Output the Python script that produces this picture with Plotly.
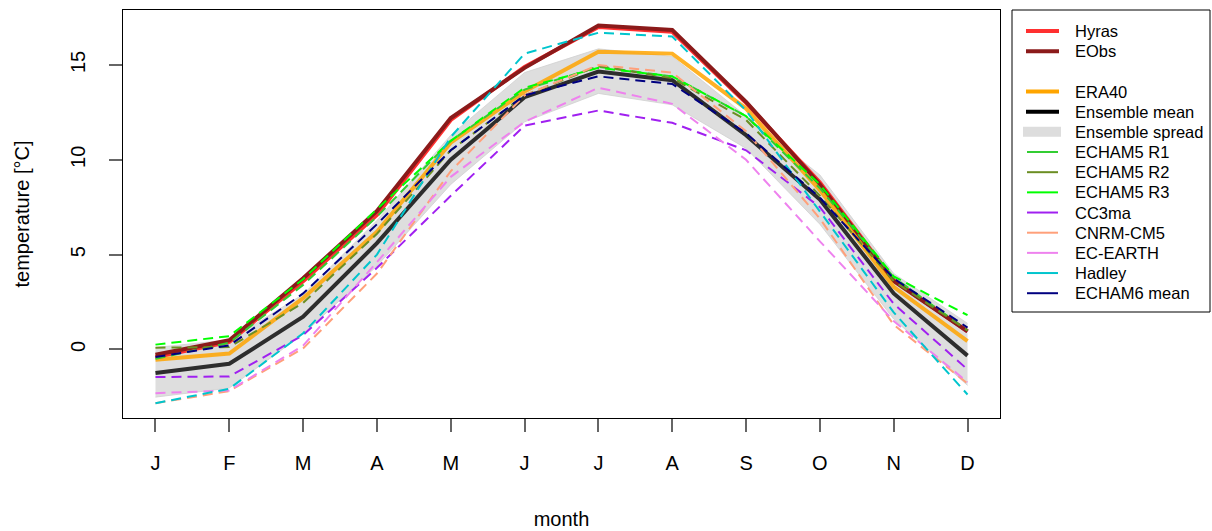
import plotly.graph_objects as go

months = ["J", "F", "M", "A", "M", "J", "J", "A", "S", "O", "N", "D"]
month_idx = list(range(1, 13))

hyras = [-0.4, 0.4, 3.6, 7.1, 12.1, 14.9, 17.0, 16.75, 13.0, 8.8, 3.65, 0.95]
eobs = [-0.28, 0.48, 3.75, 7.3, 12.2, 14.85, 17.08, 16.85, 13.06, 8.7, 3.6, 0.95]
era40 = [-0.55, -0.22, 2.7, 6.2, 10.9, 13.6, 15.7, 15.6, 12.7, 8.4, 3.3, 0.44]
ens_mean = [-1.25, -0.76, 1.72, 5.6, 10.0, 13.3, 14.65, 14.2, 11.3, 7.9, 2.95, -0.33]
spread_lo = [-2.52, -2.04, 0.8, 4.4, 8.7, 12.0, 13.5, 12.9, 10.6, 6.6, 1.6, -1.9]
spread_hi = [0.1, 0.5, 2.9, 6.8, 11.3, 14.6, 15.85, 15.45, 12.3, 9.2, 4.0, 1.37]

echam5_r1 = [-0.5, 0.35, 3.4, 7.0, 11.0, 13.7, 14.9, 14.4, 12.3, 8.5, 3.8, 1.0]
echam5_r2 = [0.09, 0.12, 2.45, 6.1, 10.5, 13.4, 14.95, 14.3, 12.1, 8.1, 3.6, 1.0]
echam5_r3 = [0.25, 0.7, 3.7, 7.4, 11.0, 13.8, 14.85, 14.4, 12.3, 8.7, 3.85, 1.8]
cc3ma = [-1.46, -1.43, 0.75, 4.3, 8.1, 11.8, 12.6, 11.95, 10.5, 7.5, 2.4, -1.06]
cnrm_cm5 = [-2.84, -2.2, 0.05, 4.0, 9.4, 13.4, 15.0, 14.6, 11.5, 6.9, 1.3, -1.8]
ec_earth = [-2.31, -2.17, 0.2, 4.6, 9.1, 12.0, 13.8, 12.95, 10.0, 5.7, 1.5, -1.73]
hadley = [-2.84, -2.08, 0.85, 5.0, 11.2, 15.6, 16.7, 16.5, 12.6, 7.3, 1.95, -2.38]
echam6_mean = [-0.4, 0.21, 2.95, 6.6, 10.5, 13.4, 14.4, 14.0, 11.4, 8.0, 3.74, 1.15]

y_ticks = [0, 5, 10, 15]

FONT = "Liberation Sans, Arial, sans-serif"
W, H = 1212, 531
ML, MR, MT, MB = 123, 212, 10, 113
PW, PH = W - ML - MR, H - MT - MB


def px_x(px):
    return (px - ML) / PW


def px_y(py):
    return (H - MB - py) / PH


fig = go.Figure()

# ensemble spread polygon
fig.add_trace(go.Scatter(x=month_idx, y=spread_lo, mode="lines",
                         line=dict(width=0.8, color="#d0d0d0"),
                         showlegend=False, hoverinfo="skip"))
fig.add_trace(go.Scatter(x=month_idx, y=spread_hi, mode="lines",
                         line=dict(width=0.8, color="#d0d0d0"),
                         fill="tonexty", fillcolor="#dedede",
                         showlegend=False, hoverinfo="skip"))

thick = [
    ("Hyras", hyras, "#ff3030"),
    ("EObs", eobs, "#8b1a1a"),
    ("ERA40", era40, "rgba(255,165,0,0.85)"),
    ("Ensemble mean", ens_mean, "rgba(0,0,0,0.8)"),
]
for name, vals, col in thick:
    fig.add_trace(go.Scatter(x=month_idx, y=vals, mode="lines", name=name,
                             line=dict(color=col, width=4), showlegend=False))

models = [
    ("ECHAM5 R1", echam5_r1, "#32cd32"),
    ("ECHAM5 R2", echam5_r2, "#6b8e23"),
    ("ECHAM5 R3", echam5_r3, "#00ff00"),
    ("CC3ma", cc3ma, "#a020f0"),
    ("CNRM-CM5", cnrm_cm5, "#ffa07a"),
    ("EC-EARTH", ec_earth, "#ee82ee"),
    ("Hadley", hadley, "#00c5cd"),
    ("ECHAM6 mean", echam6_mean, "#000080"),
]
for name, vals, col in models:
    fig.add_trace(go.Scatter(x=month_idx, y=vals, mode="lines", name=name,
                             line=dict(color=col, width=2, dash="10px,6px"),
                             showlegend=False))

# ---- manual legend (R style) ----
legend_entries = [
    ("Hyras", "#ff3030", 4),
    ("EObs", "#8b1a1a", 4),
    (None, None, 0),
    ("ERA40", "#ffa500", 4),
    ("Ensemble mean", "#000000", 4),
    ("Ensemble spread", "#dddddd", 10),
] + [(n, c, 2) for n, _, c in models]

shapes = [dict(type="rect", xref="paper", yref="paper",
               x0=px_x(1012), x1=px_x(1210), y0=px_y(312), y1=px_y(10),
               line=dict(color="black", width=1), fillcolor="rgba(0,0,0,0)")]
annotations = []
row0, step = 31, 20.17
for i, (name, col, lw) in enumerate(legend_entries):
    if name is None:
        continue
    yy = px_y(row0 + i * step)
    x0, x1 = (1023, 1061) if lw >= 10 else ((1026, 1059) if lw >= 4 else (1027, 1058))
    shapes.append(dict(type="line", xref="paper", yref="paper",
                       x0=px_x(x0), x1=px_x(x1), y0=yy, y1=yy,
                       line=dict(color=col, width=lw)))
    annotations.append(dict(text=name, xref="paper", yref="paper",
                            x=px_x(1073), y=yy, xanchor="left", yanchor="middle",
                            showarrow=False, font=dict(size=16.5, family=FONT, color="black")))

fig.update_layout(
    width=W, height=H,
    margin=dict(l=ML, r=MR, t=MT, b=MB, autoexpand=False),
    paper_bgcolor="white", plot_bgcolor="white",
    font=dict(family=FONT, color="black"),
    showlegend=False,
    shapes=shapes,
    annotations=annotations,
    xaxis=dict(range=[0.56, 12.44], tickvals=month_idx, ticktext=months,
               showgrid=False, zeroline=False, showline=True, mirror=True,
               linecolor="black", linewidth=1, automargin=False,
               ticks="outside", ticklen=13, tickcolor="#666666", tickwidth=1.5,
               tickfont=dict(size=20), ticklabelstandoff=14,
               title=dict(text="month", font=dict(size=20), standoff=38)),
    yaxis=dict(range=[-3.62, 17.9], tickvals=y_ticks,
               showgrid=False, zeroline=False, showline=True, mirror=True,
               linecolor="black", linewidth=1, automargin=False,
               ticks="outside", ticklen=13, tickcolor="#666666", tickwidth=1.5,
               tickfont=dict(size=20), tickangle=-90, ticklabelstandoff=16,
               title=dict(text="temperature [°C]", font=dict(size=20), standoff=32)),
)

fig.write_html("out.html")
